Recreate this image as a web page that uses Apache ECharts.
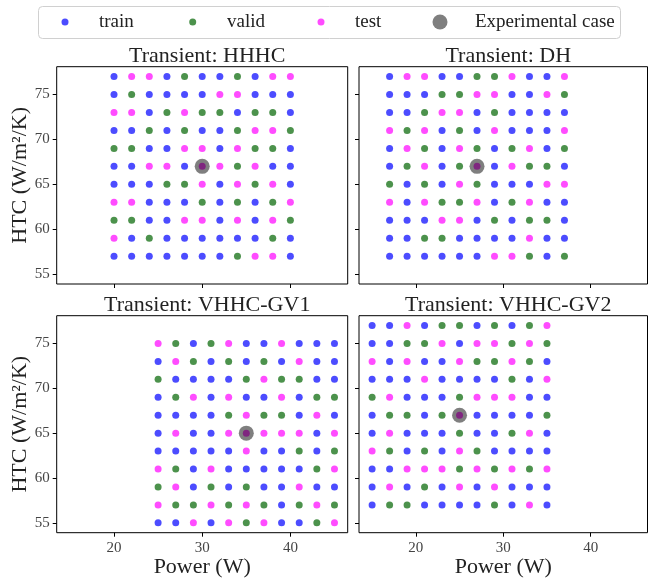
<!DOCTYPE html>
<html>
<head>
<meta charset="utf-8">
<script src="https://cdn.jsdelivr.net/npm/echarts@6/dist/echarts.min.js"></script>
<style>
  html, body { margin: 0; padding: 0; background: #fff; }
  #chart { width: 649px; height: 581px; }
</style>
</head>
<body>
<div id="chart"></div>
<script>
// split codes per row: T = train, V = valid, X = test (rows from top HTC to bottom)
var hhhcPower = [20, 22, 24, 26, 28, 30, 32, 34, 36, 38, 40];
var hhhcHTC = [77, 75, 73, 71, 69, 67, 65, 63, 61, 59, 57];
var hhhcSplit = [
  'TXXTVTTVTXX',
  'TVTTTTXXTTT',
  'XXTVXVVTVVT',
  'TTVTVTTVXXV',
  'VVTTXXTXVVT',
  'TTXXTXXVXTT',
  'TTTVVXTXVXT',
  'XXTTTVTVTVX',
  'VVTTXXTXTXV',
  'XTVTTTTTTVT',
  'TTTTTTTVXXT'
];
var hhhcExp = [30, 67];

var dhPower = [17, 19, 21, 23, 25, 27, 29, 31, 33, 35, 37];
var dhHTC = [77, 75, 73, 71, 69, 67, 65, 63, 61, 59, 57];
var dhSplit = [
  'TXXTTVVXTTX',
  'TTTVVXXTTXV',
  'TTVXXTVTTTT',
  'XVXTVTXTTTX',
  'TXVTXVTVXTV',
  'TVXTVXTXVVT',
  'VTVTXVTTTXX',
  'XTXVVXTVXTT',
  'TTTXXTVTVVT',
  'TTVVTTTTXTT',
  'TTTTTTXXVTV'
];
var dhExp = [27, 67];

var gv1Power = [25, 27, 29, 31, 33, 35, 37, 39, 41, 43, 45];
var gv1HTC = [75, 73, 71, 69, 67, 65, 63, 61, 59, 57, 55];
var gv1Split = [
  'XVTVXTTXTTT',
  'TXVTVTVTXTT',
  'VTTTTVXVVTT',
  'TVXTXTTXTVV',
  'TTTTVXVVTXT',
  'TXTTXXXXXTX',
  'TTTTTXTTVTV',
  'XVTXTTTTTVX',
  'VXTVTVTTXTT',
  'XVVXVXVTVXV',
  'TTXTXVXTTVX'
];
var gv1Exp = [35, 65];

var gv2Power = [15, 17, 19, 21, 23, 25, 27, 29, 31, 33, 35];
var gv2HTC = [77, 75, 73, 71, 69, 67, 65, 63, 61, 59, 57];
var gv2Split = [
  'TTXTVVTVTVX',
  'TTVVXTXXVXV',
  'XTXTTXVVXVT',
  'TTTXTTTTVTX',
  'VXTTTVXXXTT',
  'TVVTVXTTTTV',
  'TXTTTVTTVXT',
  'XVTVTXVTTTT',
  'TTXXXVXVXVX',
  'TXTVTXTXTTT',
  'TVVTTTTVTXT'
];
var gv2Exp = [25, 67];

var panelTitles = ['Transient: HHHC', 'Transient: DH', 'Transient: VHHC-GV1', 'Transient: VHHC-GV2'];
var powerTicks = [20, 30, 40];
var htcTicks = [55, 60, 65, 70, 75];

var panels = [
  { power: hhhcPower, htc: hhhcHTC, split: hhhcSplit, exp: hhhcExp },
  { power: dhPower, htc: dhHTC, split: dhSplit, exp: dhExp },
  { power: gv1Power, htc: gv1HTC, split: gv1Split, exp: gv1Exp },
  { power: gv2Power, htc: gv2HTC, split: gv2Split, exp: gv2Exp }
];

var codes = { T: 'train', V: 'valid', X: 'test' };
var colors = {
  train: 'rgba(0,0,255,0.7)',
  valid: 'rgba(0,100,0,0.7)',
  test: 'rgba(255,0,255,0.7)',
  'Experimental case': 'rgba(0,0,0,0.5)'
};

var serif = 'Liberation Serif, DejaVu Serif, serif';
var grids = [
  { left: 56.7, top: 66.7, width: 291, height: 217.3 },
  { left: 359, top: 66.7, width: 288.5, height: 217.3 },
  { left: 56.7, top: 315.7, width: 291, height: 217 },
  { left: 359, top: 315.7, width: 288.5, height: 217 }
];

var xAxes = [], yAxes = [], series = [], titles = [];
grids.forEach(function (g, i) {
  g.show = true;
  g.borderColor = '#000';
  g.borderWidth = 1;
  g.containLabel = false;
  var bottom = i >= 2, left = i % 2 === 0;
  xAxes.push({
    type: 'value', gridIndex: i, min: 13.5, max: 46.5,
    axisLine: { show: false },
    splitLine: { show: false },
    axisTick: { show: true, length: 4, lineStyle: { color: '#000' }, customValues: powerTicks },
    axisLabel: { show: bottom, customValues: powerTicks, margin: 8, color: '#444', fontSize: 15, fontFamily: serif },
    name: bottom ? 'Power (W)' : '', nameLocation: 'middle', nameGap: 22,
    nameTextStyle: { fontSize: 22, color: '#222', fontFamily: serif }
  });
  yAxes.push({
    type: 'value', gridIndex: i, min: 53.9, max: 78.1,
    axisLine: { show: false },
    splitLine: { show: false },
    axisTick: { show: true, length: 4, lineStyle: { color: '#000' }, customValues: htcTicks },
    axisLabel: { show: left, customValues: htcTicks, margin: 7, color: '#444', fontSize: 15, fontFamily: serif },
    name: left ? 'HTC (W/m²/K)' : '', nameLocation: 'middle', nameGap: 25,
    nameMoveOverlap: false,
    nameTextStyle: { fontSize: 22, color: '#222', fontFamily: serif }
  });
  titles.push({
    text: panelTitles[i],
    left: g.left + g.width / 2, top: g.top - 26,
    textAlign: 'center',
    textStyle: { fontSize: 22, fontWeight: 'normal', color: '#222', fontFamily: serif }
  });

  var p = panels[i];
  var buckets = { train: [], valid: [], test: [] };
  p.split.forEach(function (row, r) {
    for (var c = 0; c < row.length; c++) {
      buckets[codes[row[c]]].push([p.power[c], p.htc[r]]);
    }
  });
  ['train', 'valid', 'test'].forEach(function (name) {
    series.push({
      name: name, type: 'scatter', xAxisIndex: i, yAxisIndex: i,
      symbolSize: 7, data: buckets[name],
      itemStyle: { color: colors[name], opacity: 1 }
    });
  });
  series.push({
    name: 'Experimental case', type: 'scatter', xAxisIndex: i, yAxisIndex: i,
    symbolSize: 15, data: [p.exp], z: 5,
    itemStyle: { color: colors['Experimental case'], opacity: 1 }
  });
});

function legendItem(name, leftPx, size, pad) {
  return {
    data: [name], left: leftPx, top: 22 - 10, padding: 0,
    icon: 'circle', itemWidth: size, itemHeight: size,
    itemStyle: { opacity: 1 },
    textStyle: { fontSize: 19, lineHeight: 20, color: '#222', fontFamily: serif, padding: [0, 0, 0, pad] }
  };
}

var chart = echarts.init(document.getElementById('chart'), null, { renderer: 'canvas' });
chart.setOption({
  animation: false,
  backgroundColor: '#fff',
  title: titles,
  legend: [
    legendItem('train', 61.5, 7, 25.5),
    legendItem('valid', 189.2, 7, 25.8),
    legendItem('test', 317.5, 7, 25.5),
    legendItem('Experimental case', 432.5, 15, 22.5)
  ],
  graphic: [{
    type: 'rect', z: -1, silent: true,
    shape: { x: 38.5, y: 6.5, width: 582, height: 32, r: 4 },
    style: { fill: '#fff', stroke: '#d0d0d0', lineWidth: 1 }
  }],
  grid: grids,
  xAxis: xAxes,
  yAxis: yAxes,
  series: series
});
</script>
</body>
</html>
